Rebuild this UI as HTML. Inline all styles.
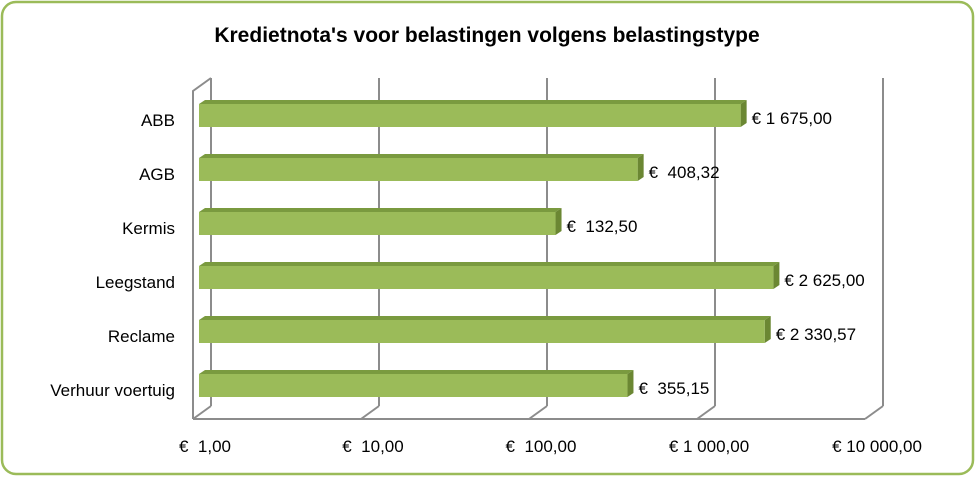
<!DOCTYPE html>
<html><head><meta charset="utf-8"><style>
body{margin:0;background:#fff;}
svg text{font-family:"Liberation Sans",sans-serif;}
</style></head><body>
<svg width="975" height="476" xmlns="http://www.w3.org/2000/svg">
<rect x="2" y="2" width="971" height="472" rx="14" fill="#fff" stroke="#9BBB59" stroke-width="2.5"/>
<text x="487" y="42" text-anchor="middle" font-size="21" font-weight="bold" fill="#000">Kredietnota's voor belastingen volgens belastingstype</text>
<g id="axes"></g>
<g id="bars"></g>
</svg>
<script>
const categories=["ABB","AGB","Kermis","Leegstand","Reclame","Verhuur voertuig"];
const values=[1675.00,408.32,132.50,2625.00,2330.57,355.15];
const valueLabels=["€ 1 675,00","€  408,32","€  132,50","€ 2 625,00","€ 2 330,57","€  355,15"];
const tickValues=[1,10,100,1000,10000];
const tickLabels=["€  1,00","€  10,00","€  100,00","€ 1 000,00","€ 10 000,00"];
const NS="http://www.w3.org/2000/svg";
const X0=193,DEC=168,DX=18,DY=-13,FLOOR=419,TOP=78;
function xs(v){return X0+Math.log10(v)*DEC;}
function mk(tag,attrs,parent){const e=document.createElementNS(NS,tag);for(const k in attrs)e.setAttribute(k,attrs[k]);parent.appendChild(e);return e;}
const ax=document.getElementById('axes'),bg=document.getElementById('bars');
const grey="#8c8c8c";
tickValues.forEach((t,i)=>{
 const fx=xs(t);
 const g=mk('line',{x1:fx+DX,y1:TOP,x2:fx+DX,y2:FLOOR+DY,stroke:grey,'stroke-width':2},ax);
 
 
 const d=mk('line',{x1:fx,y1:FLOOR,x2:fx+DX,y2:FLOOR+DY,stroke:grey,'stroke-width':2},ax);
 
 
 const tl=mk('text',{x:fx+12,y:452,'text-anchor':'middle','font-size':17,fill:'#000'},ax);
 tl.style.whiteSpace='pre';
 tl.textContent=tickLabels[i];
 
 
});
const fl=mk('line',{x1:xs(1),y1:FLOOR,x2:xs(10000),y2:FLOOR,stroke:grey,'stroke-width':2},ax);


const lw=mk('polyline',{points:`${xs(1)},${FLOOR} ${xs(1)},${TOP-DY} ${xs(1)+DX},${TOP}`,fill:'none',stroke:grey,'stroke-width':2},ax);


const BX=199,BH=23,BD=6,BDY=4;
categories.forEach((c,i)=>{
 const y=104+i*54,x2=BX+Math.log10(values[i])*DEC;
 const g=mk('g',{},bg);
 
 
 mk('polygon',{points:`${BX},${y} ${BX+BD},${y-BDY} ${x2+BD},${y-BDY} ${x2},${y}`,fill:'#7a9a3f'},g);
 mk('polygon',{points:`${x2},${y} ${x2+BD},${y-BDY} ${x2+BD},${y+BH-BDY} ${x2},${y+BH}`,fill:'#6b8733'},g);
 mk('rect',{x:BX,y:y,width:x2-BX,height:BH,fill:'#9bbb59'},g);
 const cl=mk('text',{x:175,y:y+22,'text-anchor':'end','font-size':17,fill:'#000'},bg);
 cl.textContent=c;
 
 
 const vl=mk('text',{x:x2+BD+5,y:y+20,'font-size':17,fill:'#000'},bg);
 vl.style.whiteSpace='pre';
 vl.textContent=valueLabels[i];
 
 
});
</script>
</body></html>
